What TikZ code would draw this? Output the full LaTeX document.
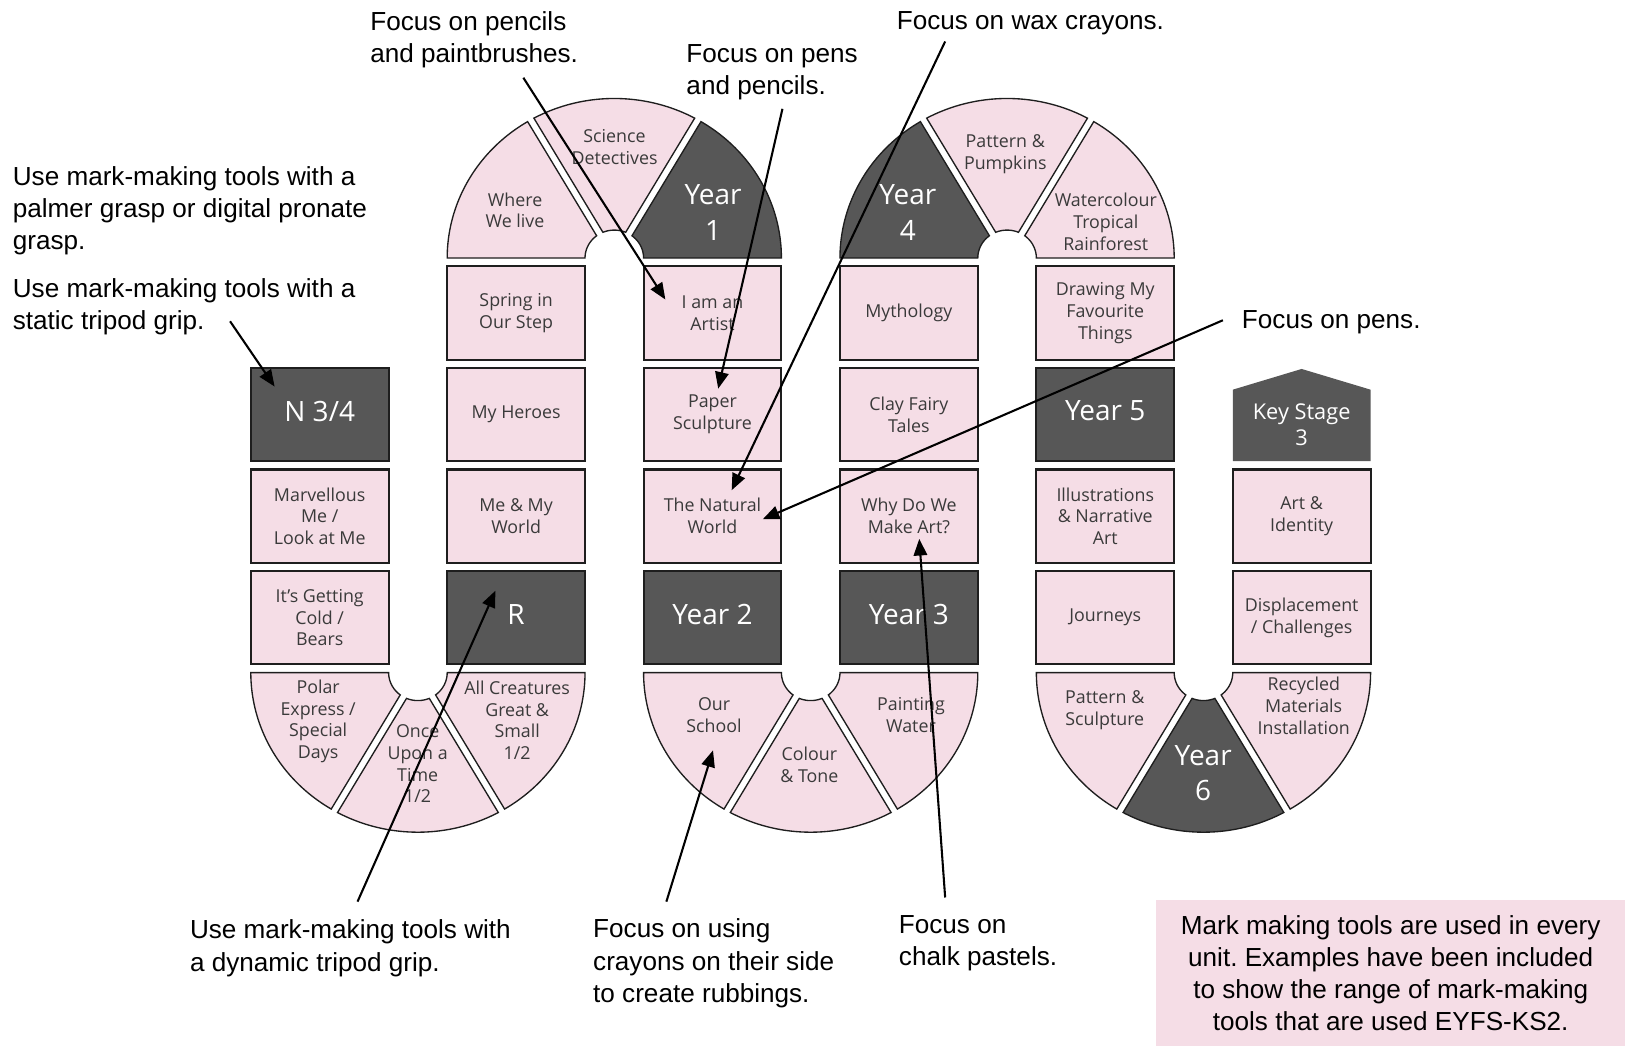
\documentclass[tikz,border=0pt]{standalone}
\usepackage{fontspec}
\setmainfont{Open Sans}
\newfontfamily\notefamily{Liberation Sans}
\usetikzlibrary{arrows.meta,calc}
\frenchspacing

\definecolor{tilepink}{HTML}{F5DDE6}
\definecolor{tiledark}{HTML}{575757}
\definecolor{tileedge}{HTML}{1E1E1E}
\definecolor{tiletext}{HTML}{3A3A3A}

\newcommand\tilefont{\fontsize{8.6}{10.5}\selectfont}
\newcommand\yearfont{\fontsize{13.5}{17}\selectfont}
\newcommand\stagefont{\fontsize{10.5}{12.5}\selectfont}
\newcommand\callfont{\notefamily\fontsize{12.6}{15.5}\selectfont}

% ring geometry (outer/inner radius, vertical squash, gap half-angles)
\def\Ro{161.25}
\def\Ri{28.25}
\def\kk{0.955}
\def\gapO{1.244}
\def\gapI{7.12}

% one ring sector: cx, cy, start angle, end angle, gap at start (0/1), gap at end (0/1), style
\newcommand\ringsector[7]{%
  \pgfmathsetmacro\sA{#3+#5*\gapO}%
  \pgfmathsetmacro\sB{#4-#6*\gapO}%
  \pgfmathsetmacro\sC{#4-#6*\gapI}%
  \pgfmathsetmacro\sD{#3+#5*\gapI}%
  \path[#7] plot[domain=\sA:\sB, samples=60, variable=\q] ({#1+\Ro*cos(\q)},{#2+\kk*\Ro*sin(\q)})
    -- plot[domain=\sC:\sD, samples=20, variable=\q] ({#1+\Ri*cos(\q)},{#2+\kk*\Ri*sin(\q)}) -- cycle;%
}

\begin{document}
\begin{tikzpicture}[x=0.5pt,y=-0.5pt,
  tile/.style={draw=tileedge, line width=1pt, fill=tilepink, minimum width=66.5pt,
    minimum height=45pt, inner sep=0pt, align=center, text=tiletext, font=\tilefont},
  darktile/.style={tile, fill=tiledark, text=white, font=\yearfont, text depth=3.5pt},
  pinksector/.style={fill=tilepink, draw=tileedge, line width=0.65pt},
  darksector/.style={fill=tiledark, draw=tileedge, line width=0.65pt},
  sectortext/.style={align=center, text=tiletext, font=\tilefont, inner sep=0pt},
  sectoryear/.style={align=center, text=white, font=\yearfont, inner sep=0pt},
  callout/.style={align=left, anchor=base west, inner sep=0pt, font=\callfont},
  pointer/.style={line width=1pt, -{Triangle[length=8pt,width=6.5pt]}}
]
\useasboundingbox (0,0) rectangle (1568,1009);

% ---------- top arches ----------
\ringsector{592.75}{249}{180}{240}{0}{1}{pinksector}
\ringsector{592.75}{249}{240}{300}{1}{1}{pinksector}
\ringsector{592.75}{249}{300}{360}{1}{0}{darksector}
\node[sectortext] (wherelive) at (497,203) {Where\\We live};
\node[sectortext] (science) at (593,142) {Science\\Detectives};
\node[sectoryear] (year1) at (688,205) {Year\\1};

\ringsector{971.75}{249}{180}{240}{0}{1}{darksector}
\ringsector{971.75}{249}{240}{300}{1}{1}{pinksector}
\ringsector{971.75}{249}{300}{360}{1}{0}{pinksector}
\node[sectoryear] (year4) at (876,205) {Year\\4};
\node[sectortext] (pumpkins) at (970,149) {Pattern \&\\Pumpkins};
\node[sectortext] (rainforest) at (1067,214) {Watercolour\\Tropical\\Rainforest};

% ---------- bottom arches ----------
\ringsector{403.25}{649}{0}{60}{0}{1}{pinksector}
\ringsector{403.25}{649}{60}{120}{1}{1}{pinksector}
\ringsector{403.25}{649}{120}{180}{1}{0}{pinksector}
\node[sectortext] (polar) at (307,696) {Polar\\Express /\\Special\\Days};
\node[sectortext] (onceupon) at (403,737) {Once\\Upon a\\Time\\1/2};
\node[sectortext] (creatures) at (499,695) {All Creatures\\Great \&\\Small\\1/2};

\ringsector{782.25}{649}{0}{60}{0}{1}{pinksector}
\ringsector{782.25}{649}{60}{120}{1}{1}{pinksector}
\ringsector{782.25}{649}{120}{180}{1}{0}{pinksector}
\node[sectortext] (school) at (689,690) {Our\\School};
\node[sectortext] (colour) at (781,738) {Colour\\\& Tone};
\node[sectortext] (water) at (879,690) {Painting\\Water};

\ringsector{1161.25}{649}{0}{60}{0}{1}{pinksector}
\ringsector{1161.25}{649}{60}{120}{1}{1}{darksector}
\ringsector{1161.25}{649}{120}{180}{1}{0}{pinksector}
\node[sectortext] (patsculpt) at (1066,685) {Pattern \&\\Sculpture};
\node[sectoryear] (year6) at (1161,746) {Year\\6};
\node[sectortext] (recycled) at (1258,681) {Recycled\\Materials\\Installation};

% ---------- column tiles ----------
% column 1
\node[darktile] (n34) at (308.5,400) {N 3/4};
\node[tile] (marvellous) at (308.5,498) {Marvellous\\Me /\\Look at Me};
\node[tile] (cold) at (308.5,596) {It’s Getting\\Cold /\\Bears};
% column 2
\node[tile] (spring) at (498,302) {Spring in\\Our Step};
\node[tile] (heroes) at (498,400) {My Heroes};
\node[tile] (myworld) at (498,498) {Me \& My\\World};
\node[darktile] (rec) at (498,596) {R};
% column 3
\node[tile] (artist) at (687.5,302) {I am an\\Artist};
\node[tile] (paper) at (687.5,400) {Paper\\Sculpture};
\node[tile] (natural) at (687.5,498) {The Natural\\World};
\node[darktile] (year2) at (687.5,596) {Year 2};
% column 4
\node[tile] (myth) at (877,302) {Mythology};
\node[tile] (clay) at (877,400) {Clay Fairy\\Tales};
\node[tile] (whyart) at (877,498) {Why Do We\\Make Art?};
\node[darktile] (year3) at (877,596) {Year 3};
% column 5
\node[tile] (favourite) at (1066.5,302) {Drawing My\\Favourite\\Things};
\node[darktile] (year5) at (1066.5,400) {Year 5};
\node[tile] (illus) at (1066.5,498) {Illustrations\\\& Narrative\\Art};
\node[tile] (journeys) at (1066.5,596) {Journeys};
% column 6
\fill[tiledark] (1189.5,376) -- (1256,356) -- (1322.5,376) -- (1322.5,445) -- (1189.5,445) -- cycle;
\node[sectoryear, font=\stagefont] (ks3) at (1256,410) {Key Stage\\3};
\node[tile] (identity) at (1256,498) {Art \&\\Identity};
\node[tile] (displace) at (1256,596) {Displacement\\/ Challenges};

% ---------- callouts (anchored on the last line's baseline) ----------
\node[callout] (palmer) at (12,241) {Use mark-making tools with a\\palmer grasp or digital pronate\\grasp.};
\node[callout] (static) at (12,318) {Use mark-making tools with a\\static tripod grip.};
\node[callout] (brushes) at (357,60) {Focus on pencils\\and paintbrushes.};
\node[callout] (penpencil) at (662,91) {Focus on pens\\and pencils.};
\node[callout] (wax) at (865,28) {Focus on wax crayons.};
\node[callout] (pens) at (1198,317) {Focus on pens.};
\node[callout] (dynamic) at (183,937) {Use mark-making tools with\\a dynamic tripod grip.};
\node[callout] (rubbing) at (572,967) {Focus on using\\crayons on their side\\to create rubbings.};
\node[callout] (chalk) at (867,932) {Focus on\\chalk pastels.};

\node[fill=tilepink, minimum width=226.5pt, minimum height=70.5pt, inner sep=0pt,
  anchor=north west, align=center, font=\callfont] (summary) at (1115,868)
  {Mark making tools are used in every\\unit. Examples have been included\\to show the range of mark-making\\tools that are used EYFS-KS2.};

% ---------- pointers ----------
\coordinate (s1) at (222,310);  \coordinate (t1) at (265,373);
\coordinate (s2) at (505,75);   \coordinate (t2) at (642,289);
\coordinate (s3) at (755,105);  \coordinate (t3) at (693,375);
\coordinate (s4) at (912,40);   \coordinate (t4) at (706,473);
\coordinate (s5) at (1180,309); \coordinate (t5) at (736,501);
\coordinate (s6) at (345,870);  \coordinate (t6) at (478,570);
\coordinate (s7) at (643,870);  \coordinate (t7) at (688,724);
\coordinate (s8) at (912,866);  \coordinate (t8) at (887,520);
\foreach \k in {1,...,8} { \draw[pointer] (s\k) -- (t\k); }
\end{tikzpicture}
\end{document}
